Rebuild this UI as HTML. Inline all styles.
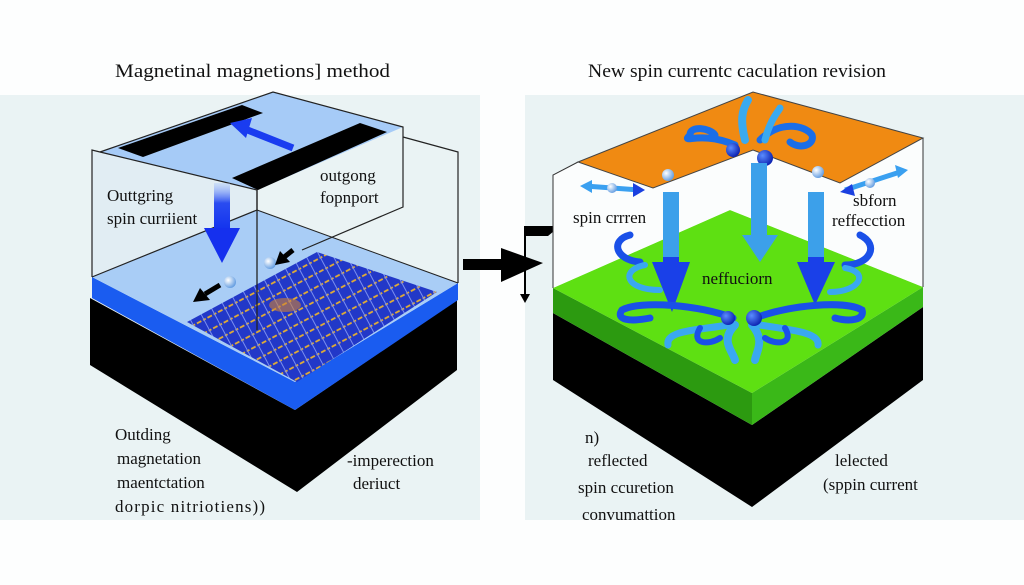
<!DOCTYPE html>
<html><head><meta charset="utf-8"><style>
html,body{margin:0;padding:0;background:#fdfefe;}
svg{display:block}
text{font-family:"Liberation Serif",serif;fill:#111;}
</style></head><body>
<svg width="1024" height="585" viewBox="0 0 1024 585" xmlns="http://www.w3.org/2000/svg">
<defs>
<linearGradient id="da" x1="0" y1="0" x2="0" y2="1"><stop offset="0" stop-color="#9fc0ff" stop-opacity="0.3"/><stop offset="0.4" stop-color="#2a4cf0"/><stop offset="1" stop-color="#1030ee"/></linearGradient>
<pattern id="grid" width="12" height="12" patternUnits="userSpaceOnUse" patternTransform="rotate(-28)">
<rect width="12" height="12" fill="#2238c8"/>
<path d="M0 6H12" stroke="#e8b030" stroke-width="1.8" stroke-dasharray="3 2"/>
<path d="M6 0V12" stroke="#7a8ef0" stroke-width="1"/>
</pattern>
<radialGradient id="ball" cx="0.35" cy="0.35" r="0.7"><stop offset="0" stop-color="#fff"/><stop offset="1" stop-color="#5f9ae0"/></radialGradient>
<radialGradient id="dball" cx="0.35" cy="0.35" r="0.7"><stop offset="0" stop-color="#5a8cff"/><stop offset="1" stop-color="#0a20b0"/></radialGradient>
</defs>
<rect width="1024" height="585" fill="#fdfefe"/>
<rect x="0" y="95" width="480" height="425" fill="#eaf3f4"/>
<rect x="525" y="95" width="499" height="425" fill="#eaf3f4"/>

<text x="115" y="77" font-size="19" textLength="275" lengthAdjust="spacingAndGlyphs">Magnetinal  magnetions] method</text>
<text x="588" y="77" font-size="19" textLength="298" lengthAdjust="spacingAndGlyphs">New spin currentc caculation revision</text>

<!-- LEFT PANEL -->
<polygon points="90,298 90,365 297,492 457,370 457,300 295,410" fill="#000"/>
<polygon points="92,277 295,382 295,410 92,298" fill="#1a5cf0"/>
<polygon points="295,382 458,283 458,300 295,410" fill="#1a5cf0"/>
<polygon points="92,277 257,210 458,283 295,382" fill="#a9cdf6"/>
<polygon points="187,322 317,252 437,292 297,382" fill="url(#grid)"/>
<ellipse cx="285" cy="305" rx="16" ry="7" fill="#d08030" opacity="0.6"/>
<polygon points="100,152 273,92 403,127 257,190" fill="#a6cbf7"/>
<polygon points="92,150 92,277 257,210 257,190" fill="#dbe9f2" opacity="0.6"/>
<polyline points="92,277 92,150 100,152 257,190 257,210" fill="none" stroke="#222" stroke-width="1.2"/>
<polyline points="100,152 273,92 403,127 403,207 302,250" fill="none" stroke="#222" stroke-width="1.2"/>
<polyline points="403,137 458,152 458,283" fill="none" stroke="#222" stroke-width="1.2"/>
<line x1="92" y1="277" x2="257" y2="210" stroke="#222" stroke-width="1.2"/>
<line x1="257" y1="210" x2="458" y2="283" stroke="#222" stroke-width="1"/>
<line x1="257" y1="190" x2="257" y2="330" stroke="#222" stroke-width="1.3"/>
<polygon points="118,148 143,157 263,113 242,105" fill="#000"/>
<polygon points="232,178 258,190 387,132 360,123" fill="#000"/>
<path d="M293,148 L245,129" stroke="#1a3cf0" stroke-width="7"/>
<polygon points="230,123 252,118 246,138" fill="#1a3cf0"/>
<rect x="214" y="183" width="16" height="50" fill="url(#da)"/>
<polygon points="204,228 240,228 222,263" fill="#1530ee"/>
<circle cx="230" cy="282" r="6" fill="url(#ball)"/>
<circle cx="270" cy="263" r="6" fill="url(#ball)"/>
<path d="M293,250 L283,258" stroke="#000" stroke-width="5"/>
<polygon points="275,265 280,251 290,262" fill="#000"/>
<path d="M220,285 L205,294" stroke="#000" stroke-width="5"/>
<polygon points="193,302 200,288 210,300" fill="#000"/>
<text x="107" y="201" font-size="17">Outtgring</text>
<text x="107" y="224" font-size="17">spin curriient</text>
<text x="320" y="181" font-size="17">outgong</text>
<text x="320" y="203" font-size="17">fopnport</text>
<text x="115" y="440" font-size="17">Outding</text>
<text x="117" y="464" font-size="17">magnetation</text>
<text x="117" y="488" font-size="17">maentctation</text>
<text x="115" y="512" font-size="17" textLength="150" lengthAdjust="spacing">dorpic   nitriotiens))</text>
<text x="347" y="466" font-size="17">-imperection</text>
<text x="353" y="489" font-size="17">deriuct</text>

<!-- middle arrow -->
<rect x="463" y="259" width="40" height="11" fill="#000"/>
<polygon points="501,248 543,263 501,282" fill="#000"/>
<line x1="525" y1="227" x2="525" y2="296" stroke="#000" stroke-width="2"/>
<polygon points="520,294 530,294 525,303" fill="#000"/>
<polygon points="524,226 560,226 548,236 524,236" fill="#000"/>

<!-- RIGHT PANEL -->
<polygon points="553,313 553,380 752,507 923,380 923,307 752,425" fill="#000"/>
<polygon points="553,288 752,393 752,425 553,313" fill="#2c9a10"/>
<polygon points="752,393 923,287 923,307 752,425" fill="#3ab818"/>
<polygon points="553,288 730,210 923,287 752,393" fill="#5ee012"/>
<polygon points="553,175 578,162 653,188 753,150 840,183 923,138 923,287 730,210 553,288" fill="#fbfdfd"/>
<polyline points="553,288 553,175 578,162" fill="none" stroke="#333" stroke-width="1"/>
<line x1="923" y1="138" x2="923" y2="287" stroke="#333" stroke-width="1"/>
<polygon points="578,162 753,92 923,138 840,183 753,150 653,188" fill="#f08a12" stroke="#444" stroke-width="1"/>
<g fill="none" stroke-linecap="round">
<path d="M735,145 C700,130 680,145 690,135 C690,125 710,128 715,135" stroke="#1a6ee8" stroke-width="7"/>
<path d="M760,140 C780,120 805,125 812,135 C815,145 800,150 790,142" stroke="#1a6ee8" stroke-width="7"/>
<path d="M745,140 C740,120 742,110 748,100" stroke="#3aaaf0" stroke-width="8"/>
<path d="M765,140 C770,120 778,112 780,108" stroke="#3aaaf0" stroke-width="7"/>
</g>
<circle cx="733" cy="150" r="7" fill="url(#dball)"/>
<circle cx="765" cy="158" r="8" fill="url(#dball)"/>
<circle cx="668" cy="175" r="6" fill="url(#ball)"/>
<circle cx="818" cy="172" r="6" fill="url(#ball)"/>
<path d="M585,186 L640,190" stroke="#3aa0f0" stroke-width="5"/>
<polygon points="580,186 592,180 592,193" fill="#3aa0f0"/>
<polygon points="645,190 633,183 633,197" fill="#1a40e0"/>
<circle cx="612" cy="188" r="5" fill="url(#ball)"/>
<path d="M845,190 L900,172" stroke="#3aa0f0" stroke-width="5"/>
<polygon points="840,192 852,184 855,196" fill="#1a40e0"/>
<polygon points="908,170 895,165 898,178" fill="#3aa0f0"/>
<circle cx="870" cy="183" r="5" fill="url(#ball)"/>
<rect x="663" y="192" width="16" height="65" fill="#3ca0ea"/>
<rect x="663" y="257" width="16" height="10" fill="#1a40e8"/>
<polygon points="652,262 690,262 672,312" fill="#1a40e8"/>
<rect x="751" y="163" width="16" height="75" fill="#3ca0ea"/>
<polygon points="742,235 778,235 760,262" fill="#3ca0ea"/>
<rect x="808" y="192" width="16" height="65" fill="#3ca0ea"/>
<rect x="808" y="257" width="16" height="10" fill="#1a40e8"/>
<polygon points="797,262 835,262 815,305" fill="#1a40e8"/>
<g fill="none" stroke-linecap="round">
<path d="M630,235 C610,240 615,260 640,262" stroke="#1a50e8" stroke-width="7"/>
<path d="M645,265 C620,270 625,290 660,290" stroke="#3aa8f0" stroke-width="6"/>
<path d="M860,235 C880,245 870,265 845,265" stroke="#1a50e8" stroke-width="7"/>
<path d="M845,268 C870,272 860,292 830,292" stroke="#3aa8f0" stroke-width="6"/>
<path d="M733,318 C700,305 640,300 622,310 C615,320 630,322 650,318" stroke="#1a50e8" stroke-width="7"/>
<path d="M755,318 C790,305 845,300 862,310 C865,320 850,322 835,318" stroke="#1a50e8" stroke-width="7"/>
<path d="M728,325 C700,330 665,330 668,345" stroke="#3aa8f0" stroke-width="7"/>
<path d="M760,325 C790,330 820,332 818,345" stroke="#3aa8f0" stroke-width="7"/>
<path d="M735,325 C720,340 732,350 735,360" stroke="#3aa8f0" stroke-width="8"/>
<path d="M752,325 C765,340 757,350 755,360" stroke="#3aa8f0" stroke-width="8"/>
<path d="M700,328 C690,345 710,345 720,338" stroke="#1a50e8" stroke-width="6"/>
<path d="M785,328 C795,345 775,345 765,338" stroke="#1a50e8" stroke-width="6"/>
</g>
<circle cx="728" cy="318" r="7" fill="url(#dball)"/>
<circle cx="754" cy="318" r="8" fill="url(#dball)"/>
<text x="573" y="223" font-size="17">spin crrren</text>
<text x="853" y="206" font-size="17">sbforn</text>
<text x="832" y="226" font-size="17">reffecction</text>
<text x="702" y="284" font-size="17">neffuciorn</text>
<text x="585" y="443" font-size="17">n)</text>
<text x="588" y="466" font-size="17">reflected</text>
<text x="578" y="493" font-size="17">spin ccuretion</text>
<text x="582" y="520" font-size="17">convumattion</text>
<text x="835" y="466" font-size="17">lelected</text>
<text x="823" y="490" font-size="17">(sppin current</text>
</svg>
</body></html>
